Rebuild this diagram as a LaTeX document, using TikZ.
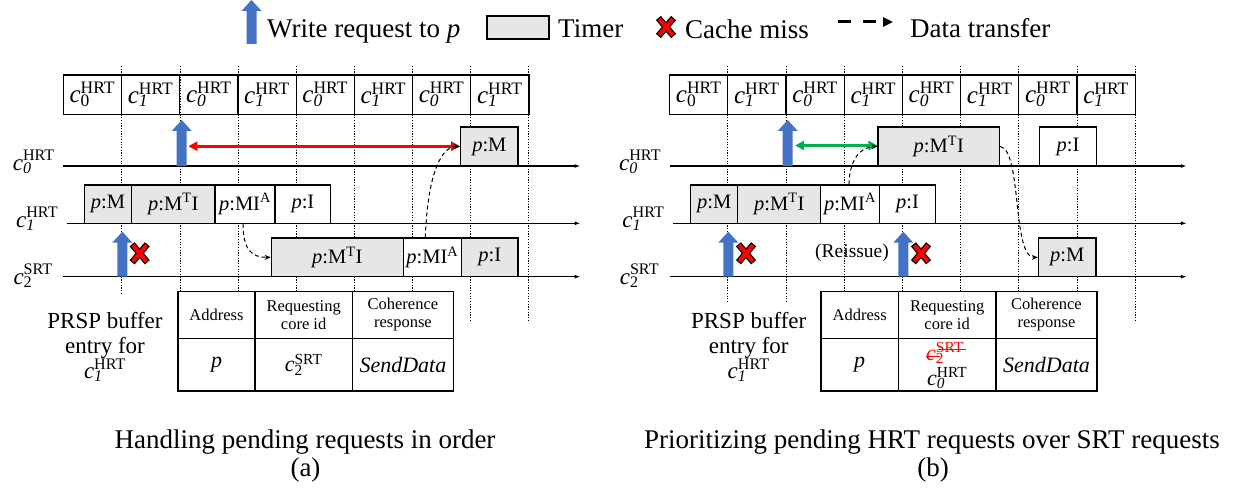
\documentclass[tikz,border=0pt]{standalone}
\usepackage{fontspec}
\setmainfont{Liberation Serif}
\usetikzlibrary{arrows.meta}
\definecolor{tgray}{HTML}{E7E6E6}
\definecolor{wblue}{HTML}{4472C4}
\definecolor{xred}{HTML}{FF0000}
\definecolor{agreen}{HTML}{00B050}
\newcommand\cx[3]{\textit{#1}\rlap{\textsubscript{#2}}\textsuperscript{#3}}
\newcommand\txM{\textit{p}:M}
\newcommand\txMTI{\textit{p}:M\textsuperscript{T}I}
\newcommand\txMIA{\textit{p}:MI\textsuperscript{A}}
\newcommand\txI{\textit{p}:I}
\newcommand\bx[7]{\node[tbox,fill=#6,minimum width={#4-#2},minimum height={#5-#3}] (#1) at ({(#2+#4)/2},{(#3+#5)/2}) {#7};}
\newcommand\tcell[7]{\node[#1,minimum width={#5-#3},minimum height={#6-#4}] (#2) at ({(#3+#5)/2},{(#4+#6)/2}) {#7};}
\newcommand\warr[3]{\fill[wblue] (#1-5,#3) -- (#1-5,#2+11) -- (#1-10,#2+11) -- (#1,#2) -- (#1+10,#2+11) -- (#1+5,#2+11) -- (#1+5,#3) -- cycle;}
\newcommand\missx[2]{%
  \draw[line width=6.5pt,line cap=rect,black] (#1-5.5,#2-6.5) -- (#1+5.5,#2+6.5) (#1-5.5,#2+6.5) -- (#1+5.5,#2-6.5);
  \draw[line width=4pt,line cap=rect,xred] (#1-5.5,#2-6.5) -- (#1+5.5,#2+6.5) (#1-5.5,#2+6.5) -- (#1+5.5,#2-6.5);}
\tikzset{
  slot/.style={draw,line width=1.2pt,minimum width=58.2pt,minimum height=39.5pt,inner sep=0pt,font=\fontsize{25}{30}\selectfont},
  tbox/.style={draw,line width=1.2pt,inner sep=0pt,font=\fontsize{20.5}{24}\selectfont},
  tline/.style={line width=1.4pt,-{Latex[length=6pt,width=4pt]}},
  vdot/.style={line width=0.9pt,dash pattern=on 1.2pt off 1.5pt},
  dtrans/.style={line width=1pt,dash pattern=on 4pt off 3pt,-{Stealth[length=6pt,width=5pt]}},
  hdr/.style={draw,line width=1.2pt,inner sep=0pt,align=center,font=\fontsize{16.5}{18}\selectfont},
  val/.style={draw,line width=1.2pt,inner sep=0pt,align=center,font=\fontsize{22}{26}\selectfont},
  clab/.style={inner sep=0pt,anchor=base east,font=\fontsize{23}{27}\selectfont},
  lgd/.style={inner sep=0pt,anchor=base west,font=\fontsize{27}{32}\selectfont},
  captxt/.style={inner sep=0pt,anchor=base,font=\fontsize{27}{32}\selectfont},
  dbl/.style={line width=3pt,{Triangle[length=9pt,width=9pt]}-{Triangle[length=9pt,width=9pt]}},
}
\begin{document}
\begin{tikzpicture}[x=1pt,y=-1pt]
\useasboundingbox (0,0) rectangle (1242,492);
% ---------------- legend
\warr{251.5}{0}{44}
\node[lgd] (lw) at (267,38) {Write request to \textit{p}};
\node[draw,fill=tgray,line width=1.2pt,minimum width=62pt,minimum height=23pt,inner sep=0pt] (lt) at (518,27.5) {};
\node[lgd] (ltt) at (558,38) {Timer};
\missx{666}{27}
\node[lgd] (lc) at (685,39) {Cache miss};
\coordinate (ld1) at (838,22);
\coordinate (ld2) at (893,22);
\draw[line width=3pt,dash pattern=on 13pt off 12pt,-{Triangle[length=10pt,width=9pt]}] (ld1) -- (ld2);
\node[lgd] (ldt) at (910,38) {Data transfer};
% ---------------- dotted grid lines
\foreach \x/\yb in {121.7/295,180/291.7,238.2/291.7,296.2/291.7,354.3/291.7,412.5/291.7,470.7/322,528.9/322,
                    727.8/303,786/303,844.2/291.7,902.4/291.7,960.6/291.7,1018.8/291.7,1077/291.7,1135.2/322}
  \draw[vdot] (\x,66) -- (\x,\yb);
% ---------------- slot rows
\foreach \i/\s in {1/0,2/1,3/0,4/1,5/0,6/1,7/0,8/1}{
  \node[slot] (sa\i) at ({63.3+58.2*(\i-0.5)},94.7) {\ifnum\i=1 \cx{c}{0}{HRT}\else\cx{c}{\textit{\s}}{HRT}\fi};
  \node[slot] (sb\i) at ({669.6+58.2*(\i-0.5)},94.7) {\ifnum\i=1 \cx{c}{0}{HRT}\else\cx{c}{\textit{\s}}{HRT}\fi};
}
% ---------------- timelines
\foreach \p/\dx in {a/0,b/606.3}{
  \coordinate (\p0s) at (63.3+\dx,166); \coordinate (\p0e) at (580.5+\dx,166);
  \coordinate (\p1s) at (67+\dx,223.3);   \coordinate (\p1e) at (580.5+\dx,223.3);
  \coordinate (\p2s) at (63.3+\dx,276.7); \coordinate (\p2e) at (580.5+\dx,276.7);
  \draw[tline] (\p0s) -- (\p0e);
  \draw[tline] (\p1s) -- (\p1e);
  \draw[tline] (\p2s) -- (\p2e);
  \node[clab] (\p l0) at (55+\dx,170) {\cx{c}{\textit{0}}{HRT}};
  \node[clab] (\p l1) at (58.3+\dx,227) {\cx{c}{\textit{1}}{HRT}};
  \node[clab] (\p l2) at (53+\dx,284) {\cx{c}{2}{SRT}};
}
% ---------------- panel (a) boxes
\bx{a1m}{84.3}{185}{131.7}{223.3}{tgray}{\txM}
\bx{a1mti}{131.7}{185}{215}{223.3}{tgray}{\txMTI}
\bx{a1mia}{215}{185}{275}{223.3}{white}{\txMIA}
\bx{a1i}{275}{185}{330.8}{223.3}{white}{\txI}
\bx{a0m}{460.7}{127}{518}{166}{tgray}{\txM}
\bx{a2mti}{271.3}{238}{403.3}{276.7}{tgray}{\txMTI}
\bx{a2mia}{403.3}{238}{461.4}{276.7}{white}{\txMIA}
\bx{a2i}{461.4}{238}{518}{276.7}{tgray}{\txI}
\warr{181.7}{120}{166}
\warr{122.3}{231.7}{276.7}
\missx{139.7}{253.3}
\coordinate (ara) at (188.3,146.2);
\draw[dbl,xred] (ara) -- (ara -| a0m.west);
\draw[dtrans] ([xshift=-2pt]a1mia.south) .. controls (243,250) and (252,257.5) .. (a2mti.west);
\draw[dtrans] ([xshift=-7pt]a2mia.north) .. controls (427,185) and (438,146.2) .. (a0m.west);
% ---------------- panel (b) boxes
\bx{b1m}{690.7}{185}{737.7}{223.3}{tgray}{\txM}
\bx{b1mti}{737.7}{185}{820.7}{223.3}{tgray}{\txMTI}
\bx{b1mia}{820.7}{185}{879.2}{223.3}{white}{\txMIA}
\bx{b1i}{879.2}{185}{935.8}{223.3}{white}{\txI}
\bx{b0mti}{878}{127}{999.6}{166}{tgray}{\txMTI}
\bx{b0i}{1039.7}{127}{1096.4}{166}{white}{\txI}
\bx{b2m}{1038.5}{238}{1096}{276.7}{tgray}{\txM}
\warr{787.7}{120}{166}
\warr{728.3}{231.7}{276.7}
\warr{903.3}{231.7}{276.7}
\missx{746}{253.3}
\missx{921}{253.3}
\node[inner sep=0pt,font=\fontsize{19.5}{23}\selectfont] (reis) at (852,253) {(Reissue)};
\coordinate (bga) at (795,145.5);
\draw[dbl,agreen] (bga) -- (bga -| b0mti.west);
\draw[dtrans] ([xshift=-1pt]b1mia.north) .. controls (849.5,160) and (860,147) .. (b0mti.west);
\draw[dtrans] (b0mti.east) .. controls (1022,150) and (1012,257.5) .. (b2m.west);
% ---------------- tables
\node[inner sep=0pt,align=center,font=\fontsize{23}{25}\selectfont] (aprsp) at (105,347) {PRSP buffer\\entry for\\\cx{c}{\textit{1}}{HRT}};
\tcell{hdr}{ah1}{178}{291.7}{255}{338.3}{Address}
\tcell{hdr}{ah2}{255}{291.7}{352.3}{338.3}{Requesting\\core id}
\tcell{hdr}{ah3}{352.3}{291.7}{453.5}{338.3}{Coherence\\response}
\tcell{val}{av1}{178}{338.3}{255}{391}{\textit{p}}
\tcell{val}{av2}{255}{338.3}{352.3}{391}{\cx{c}{2}{SRT}}
\tcell{val}{av3}{352.3}{338.3}{453.5}{391}{\textit{SendData}}
\node[inner sep=0pt,align=center,font=\fontsize{23}{25}\selectfont] (bprsp) at (748.7,347) {PRSP buffer\\entry for\\\cx{c}{\textit{1}}{HRT}};
\tcell{hdr}{bh1}{821}{291.7}{898.3}{338.3}{Address}
\tcell{hdr}{bh2}{898.3}{291.7}{996}{338.3}{Requesting\\core id}
\tcell{hdr}{bh3}{996}{291.7}{1097}{338.3}{Coherence\\response}
\tcell{val}{bv1}{821}{338.3}{898.3}{391}{\textit{p}}
\tcell{val}{bv2}{898.3}{338.3}{996}{391}{}
\tcell{val}{bv3}{996}{338.3}{1097}{391}{\textit{SendData}}
\node[inner sep=0pt,anchor=base west,text=xred,font=\fontsize{22}{26}\selectfont] (bold) at (926,360) {\cx{c}{2}{SRT}};
\draw[xred,line width=1pt] ([yshift=4pt]bold.base west) -- ++(14,0);
\draw[xred,line width=1pt] ([yshift=11pt,xshift=12pt]bold.base west) -- ++(28,0);
\node[inner sep=0pt,anchor=base west,font=\fontsize{22}{26}\selectfont] (bnew) at (927,385) {\cx{c}{\textit{0}}{HRT}};
% ---------------- captions
\node[captxt] (capa) at (305,448) {Handling pending requests in order};
\node[captxt] (laba) at (305.5,476) {(a)};
\node[captxt] (capb) at (932,448) {Prioritizing pending HRT requests over SRT requests};
\node[captxt] (labb) at (933,476) {(b)};
\end{tikzpicture}
\end{document}
